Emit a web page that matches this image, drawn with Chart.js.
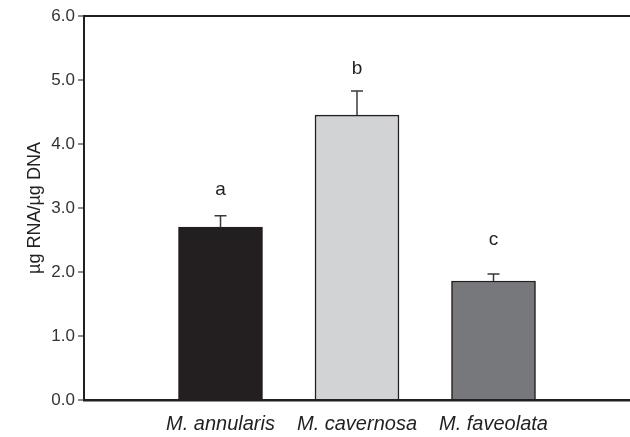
<!DOCTYPE html>
<html>
<head>
<meta charset="utf-8">
<script src="https://cdn.jsdelivr.net/npm/chart.js@4.4.1/dist/chart.umd.min.js"></script>
<style>
  html, body { margin: 0; padding: 0; background: #fff; }
  #wrap { width: 630px; height: 437px; }
</style>
</head>
<body>
<div id="wrap"><canvas id="rnaChart" width="630" height="437"></canvas></div>
<script>
// species (x categories)
const species = ['M. annularis', 'M. cavernosa', 'M. faveolata'];
// mean RNA/DNA ratio
const ratio = [2.70, 4.45, 1.86];
// standard error (upper bar only)
const stdErr = [0.18, 0.38, 0.11];
// significance letters and the height (data units) where they sit
const letters = ['a', 'b', 'c'];
const letterAt = [3.28, 5.17, 2.50];
// y ticks
const yTicks = [0, 1, 2, 3, 4, 5, 6];

const barColors = ['#231f20', '#d1d3d4', '#77787b'];
const ink = '#231f20';

// empty slots at both ends so the bars sit where the figure has them
const labels = [''].concat(species, ['']);
const values = [null].concat(ratio, [null]);
const colors = ['#fff'].concat(barColors, ['#fff']);

// error bars + letters
const errorBars = {
    id: 'errorBars',
    afterDatasetsDraw(chart) {
        const ctx = chart.ctx;
        const meta = chart.getDatasetMeta(0);
        const y = chart.scales.y;
        ctx.save();
        for (let i = 0; i < species.length; i++) {
            const bar = meta.data[i + 1];
            const x = bar.x;
            const y0 = y.getPixelForValue(ratio[i]);
            const y1 = y.getPixelForValue(ratio[i] + stdErr[i]);
            ctx.strokeStyle = '#3a3a3a';
            ctx.lineWidth = 1.5;
            ctx.beginPath();
            ctx.moveTo(x, y0);
            ctx.lineTo(x, y1);
            ctx.moveTo(x - 6, y1);
            ctx.lineTo(x + 6, y1);
            ctx.stroke();

            ctx.fillStyle = ink;
            ctx.font = '19px "Liberation Sans", Arial, sans-serif';
            ctx.textAlign = 'center';
            ctx.textBaseline = 'middle';
            ctx.fillText(letters[i], x, y.getPixelForValue(letterAt[i]));
        }
        ctx.restore();
    }
};

window.onload = function() {
    const ctx = document.getElementById('rnaChart').getContext('2d');
    new Chart(ctx, {
        type: 'bar',
        data: {
            labels: labels,
            datasets: [{
                data: values,
                backgroundColor: colors,
                borderColor: ink,
                borderWidth: 1.5,
                borderSkipped: 'bottom',
                barThickness: 84
            }]
        },
        options: {
            responsive: false,
            animation: false,
            layout: { padding: { top: 16, right: 0, bottom: 0, left: 0 } },
            plugins: {
                legend: { display: false },
                tooltip: { enabled: false }
            },
            scales: {
                x: {
                    offset: false,
                    grid: { display: false, drawTicks: false },
                    border: { display: true, color: ink, width: 2.5 },
                    ticks: {
                        color: ink,
                        padding: 12,
                        maxRotation: 0,
                        autoSkip: false,
                        font: { family: '"Liberation Sans", Arial, sans-serif', size: 20, style: 'italic' }
                    },
                    afterFit(scale) {
                        scale.height = 37;
                        scale.paddingLeft = 0;
                        scale.paddingRight = 0;
                    }
                },
                y: {
                    min: 0,
                    max: 6,
                    afterBuildTicks(scale) {
                        scale.ticks = yTicks.map(v => ({ value: v }));
                    },
                    grid: {
                        drawOnChartArea: true,
                        color: c => (c.tick && c.tick.value === 6 ? ink : 'rgba(0,0,0,0)'),
                        lineWidth: 2,
                        tickColor: '#666',
                        tickLength: 6,
                        tickWidth: 1.5
                    },
                    border: { display: true, color: ink, width: 2 },
                    ticks: {
                        color: '#333',
                        padding: 3,
                        callback: v => Number(v).toFixed(1),
                        font: { family: '"Liberation Sans", Arial, sans-serif', size: 17 }
                    },
                    title: {
                        display: true,
                        text: 'µg RNA/µg DNA',
                        color: ink,
                        padding: { top: 24, bottom: 0 },
                        font: { family: '"Liberation Sans", Arial, sans-serif', size: 18 }
                    },
                    afterFit(scale) { scale.width = 84; }
                }
            }
        },
        plugins: [errorBars]
    });
};
</script>
</body>
</html>
